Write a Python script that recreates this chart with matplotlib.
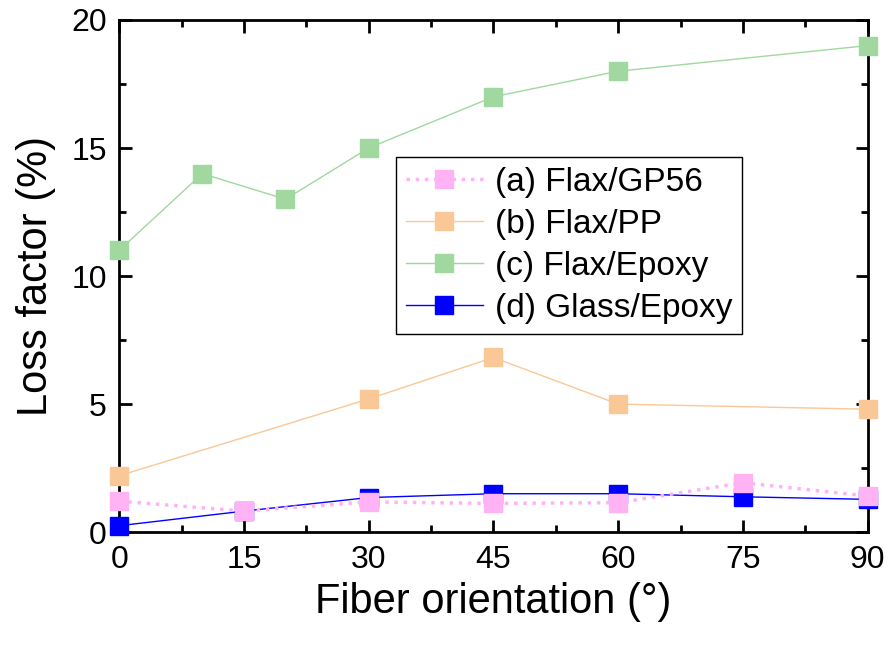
import numpy as np
import matplotlib.pyplot as plt
from matplotlib.ticker import MultipleLocator

plt.rcParams['font.family'] = ['Liberation Sans', 'DejaVu Sans']

# data
x_common = [0, 15, 30, 45, 60, 75, 90]
gp56 = [1.21, 0.82, 1.18, 1.12, 1.15, 1.93, 1.41]
glass_epoxy = [0.25, 0.82, 1.35, 1.5, 1.5, 1.38, 1.28]

x_pp = [0, 30, 45, 60, 90]
flax_pp = [2.2, 5.2, 6.82, 5.0, 4.8]

x_epoxy = [0, 10, 20, 30, 45, 60, 90]
flax_epoxy = [11, 14, 13, 15, 17, 18, 19]

labels = ['(a) Flax/GP56', '(b) Flax/PP', '(c) Flax/Epoxy', '(d) Glass/Epoxy']


def main():
    fig = plt.figure(figsize=(8.89, 6.45), dpi=100)
    ax = fig.add_axes([0.134, 0.175, 0.842, 0.794])

    ms = 12.5
    ax.plot(x_common, gp56, ':', color='#FFB3F5', lw=2.5, marker='s', ms=ms,
            mec='#FFB3F5', label=labels[0], zorder=4)
    ax.plot(x_pp, flax_pp, '-', color='#FAC896', lw=1, marker='s', ms=ms,
            mec='#FAC896', label=labels[1])
    ax.plot(x_epoxy, flax_epoxy, '-', color='#A0D8A0', lw=1, marker='s', ms=ms,
            mec='#A0D8A0', label=labels[2])
    ax.plot(x_common, glass_epoxy, '-', color='#0000FF', lw=1, marker='s', ms=ms,
            mec='#0000FF', label=labels[3], zorder=3)

    ax.set_xlim(0, 90)
    ax.set_ylim(0, 20)
    ax.xaxis.set_major_locator(MultipleLocator(15))
    ax.xaxis.set_minor_locator(MultipleLocator(7.5))
    ax.yaxis.set_major_locator(MultipleLocator(5))
    ax.yaxis.set_minor_locator(MultipleLocator(2.5))
    ax.tick_params(which='both', direction='in', top=True, right=True, width=2)
    ax.tick_params(which='major', length=9, labelsize=23, pad=9)
    ax.tick_params(which='minor', length=5)
    for s in ax.spines.values():
        s.set_linewidth(2)
        s.set_zorder(1)

    ax.set_xlabel('Fiber orientation (°)', fontsize=30, labelpad=5)
    ax.set_ylabel('Loss factor (%)', fontsize=30, labelpad=11)

    leg = ax.legend(loc='upper left', bbox_to_anchor=(0.37, 0.733), fontsize=24,
                    frameon=True, fancybox=False, framealpha=1, edgecolor='black',
                    handlelength=2.3, handletextpad=0.36, borderpad=0.3,
                    borderaxespad=0, labelspacing=0.33)
    leg.get_frame().set_linewidth(1)

    for line in ax.lines:
        line.set_clip_on(False)

    fig.savefig('out.png', dpi=100)


if __name__ == "__main__":
    main()
